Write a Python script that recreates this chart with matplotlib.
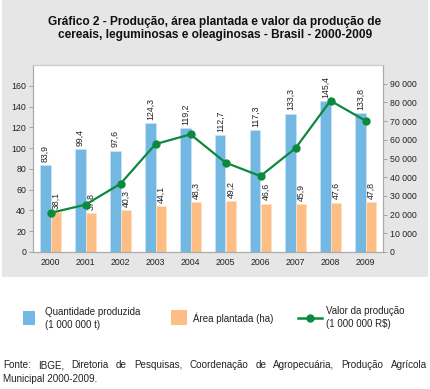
import matplotlib
matplotlib.use('Agg')
import matplotlib.pyplot as plt
from matplotlib.patches import Rectangle
from matplotlib.lines import Line2D
import numpy as np

plt.rcParams['font.family'] = ['Liberation Sans', 'DejaVu Sans']

anos = ['2000', '2001', '2002', '2003', '2004', '2005', '2006', '2007', '2008', '2009']
quantidade = [83.9, 99.4, 97.6, 124.3, 119.2, 112.7, 117.3, 133.3, 145.4, 133.8]
area = [38.1, 37.8, 40.3, 44.1, 48.3, 49.2, 46.6, 45.9, 47.6, 47.8]
valor = [20900, 25300, 36500, 57700, 62900, 47800, 40600, 55500, 80900, 70200]

azul = '#72B8E3'
laranja = '#FDBE86'
verde = '#0B8A3E'
cinza = '#E6E6E6'

W, H = 430, 389
fig = plt.figure(figsize=(W / 100, H / 100), dpi=100)
fig.patch.set_facecolor('white')

# painel cinza atras do grafico
fig.patches.append(Rectangle((2 / W, 1 - 277 / H), 426 / W, 277 / H,
                             transform=fig.transFigure, facecolor=cinza,
                             edgecolor='none', zorder=-10))

fig.text(0.5, 1 - 22 / H, 'Gráfico 2 - Produção, área plantada e valor da produção de',
         ha='center', va='center', fontsize=8.6, fontweight='bold', color='#111111')
fig.text(0.5, 1 - 35 / H, 'cereais, leguminosas e oleaginosas - Brasil - 2000-2009',
         ha='center', va='center', fontsize=8.6, fontweight='bold', color='#111111')

ax = fig.add_axes([33 / W, 1 - 252 / H, 350 / W, 187 / H])
ax.set_facecolor('white')
x = np.arange(len(anos))
w = 0.3
ax.bar(x - w / 2, quantidade, w, color=azul, edgecolor='#C5E3F5', linewidth=0.6)
ax.bar(x + w / 2, area, w, color=laranja, edgecolor='#FFE0C2', linewidth=0.6)

for xi, v in zip(x, quantidade):
    ax.text(xi - w / 2, v + 3, f'{v:.1f}'.replace('.', ','), rotation=90,
            ha='center', va='bottom', fontsize=6.3, color='#222222')
for xi, v in zip(x, area):
    ax.text(xi + w / 2, v + 3, f'{v:.1f}'.replace('.', ','), rotation=90,
            ha='center', va='bottom', fontsize=6.3, color='#222222')

ax.set_xlim(-0.5, len(anos) - 0.5)
ax.set_ylim(0, 180)
ax.set_yticks(range(0, 161, 20))
ax.set_xticks(x)
ax.set_xticklabels(anos)
ax.tick_params(axis='both', labelsize=6.3, colors='#999999', labelcolor='#222222',
               length=3, width=0.6, pad=2)
ax.tick_params(axis='x', length=0, pad=4)
for s in ax.spines.values():
    s.set_color('#AAAAAA')
    s.set_linewidth(0.8)
ax.spines['top'].set_color('#CCCCCC')

ax2 = ax.twinx()
ax2.plot(x, valor, color=verde, linewidth=1.6, marker='o', markersize=5)
ax2.set_ylim(0, 100000)
ax2.set_yticks(range(0, 90001, 10000))
ax2.set_yticklabels(['0'] + [f'{v // 1000} 000' for v in range(10000, 90001, 10000)])
ax2.tick_params(axis='y', labelsize=6.3, colors='#999999', labelcolor='#222222',
                length=3, width=0.6, pad=2)
for s in ax2.spines.values():
    s.set_color('#AAAAAA')
    s.set_linewidth(0.8)
ax2.spines['top'].set_color('#CCCCCC')

# legenda
fs_leg = 7.0
fig.patches.append(Rectangle((23 / W, 1 - 325 / H), 12 / W, 14 / H,
                             transform=fig.transFigure, facecolor=azul, edgecolor='none'))
fig.text(45 / W, 1 - 312 / H, 'Quantidade produzida', fontsize=fs_leg, va='center', color='#222222')
fig.text(45 / W, 1 - 325 / H, '(1 000 000 t)', fontsize=fs_leg, va='center', color='#222222')

fig.patches.append(Rectangle((171 / W, 1 - 325 / H), 16 / W, 15 / H,
                             transform=fig.transFigure, facecolor=laranja, edgecolor='none'))
fig.text(193 / W, 1 - 318 / H, 'Área plantada (ha)', fontsize=fs_leg, va='center', color='#222222')

fig.lines.append(Line2D([298 / W, 322 / W], [1 - 318 / H, 1 - 318 / H],
                        transform=fig.transFigure, color=verde, linewidth=1.8))
fig.lines.append(Line2D([310 / W], [1 - 318 / H], transform=fig.transFigure,
                        color=verde, marker='o', markersize=5))
fig.text(326 / W, 1 - 311 / H, 'Valor da produção', fontsize=fs_leg, va='center', color='#222222')
fig.text(326 / W, 1 - 324 / H, '(1 000 000 R$)', fontsize=fs_leg, va='center', color='#222222')

# fonte (primeira linha justificada)
fs_fonte = 7.1
linha1 = 'Fonte: IBGE, Diretoria de Pesquisas, Coordenação de Agropecuária, Produção Agrícola'
palavras = linha1.split(' ')
renderer = fig.canvas.get_renderer()
textos = [fig.text(0, 1 - 365 / H, p, fontsize=fs_fonte, va='center', color='#222222') for p in palavras]
larguras = [t.get_window_extent(renderer).width for t in textos]
espaco = (424 - sum(larguras)) / (len(palavras) - 1)
pos = 3
for t, lw in zip(textos, larguras):
    t.set_x(pos / W)
    pos += lw + espaco
fig.text(3 / W, 1 - 379 / H, 'Municipal 2000-2009.', fontsize=fs_fonte, va='center', color='#222222')

fig.savefig('out.png', dpi=100, facecolor=fig.get_facecolor())
